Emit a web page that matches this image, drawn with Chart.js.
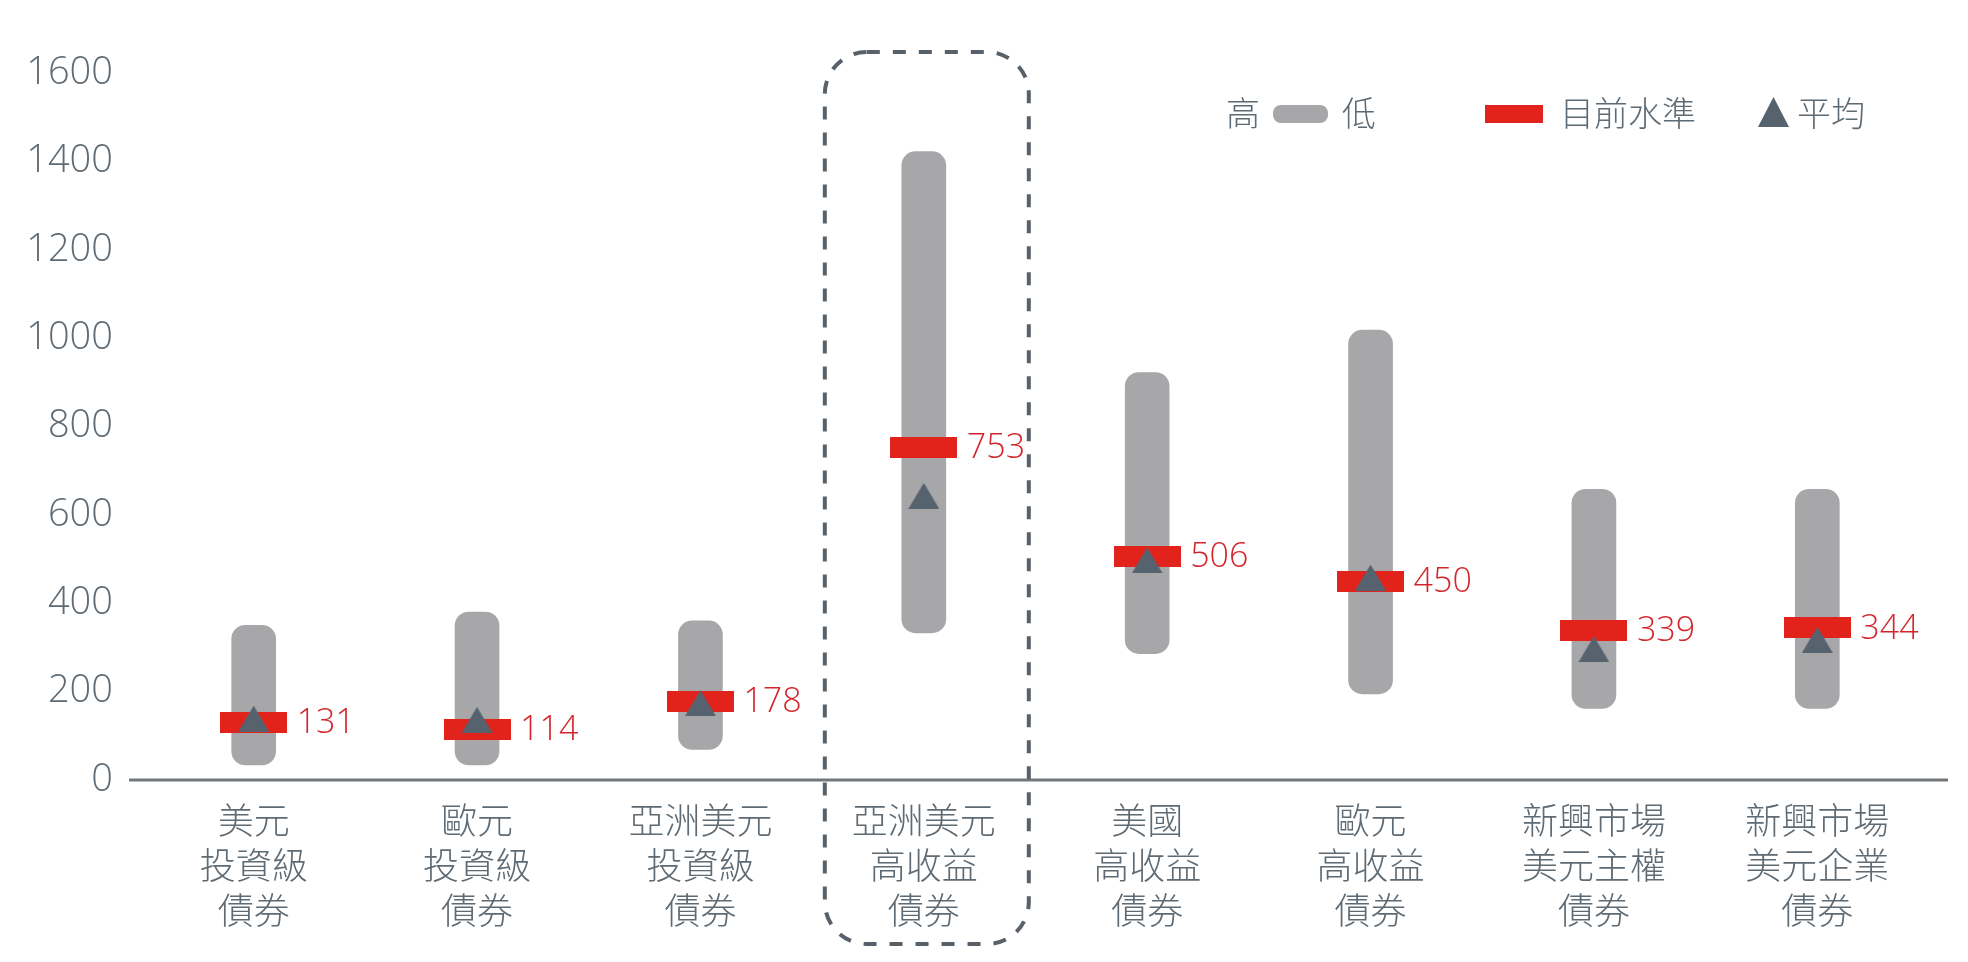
<!DOCTYPE html>
<html><head><meta charset="utf-8">
<script src="https://cdn.jsdelivr.net/npm/chart.js@4.4.0/dist/chart.umd.min.js"></script>
<style>html,body{margin:0;padding:0;background:#fff;overflow:hidden}#wrap{width:1968px;height:962px;position:relative}</style>
</head><body><div id="wrap"><canvas id="c" width="1968" height="962"></canvas></div>
<script>
// ---- data ----
const categories = [
  ['美元','投資級','債券'],
  ['歐元','投資級','債券'],
  ['亞洲美元','投資級','債券'],
  ['亞洲美元','高收益','債券'],
  ['美國','高收益','債券'],
  ['歐元','高收益','債券'],
  ['新興市場','美元主權','債券'],
  ['新興市場','美元企業','債券']
];
const highValues    = [350, 380, 360, 1422, 922, 1018, 658, 658];
const lowValues     = [34, 34, 69, 333, 286, 195, 162, 162];
const currentValues = [131, 114, 178, 753, 506, 450, 339, 344];
const averageValues = [139, 136, 174, 643, 497, 458, 296, 317];
const yTicks = [0, 200, 400, 600, 800, 1000, 1200, 1400, 1600];
const highlightIndex = 3;
const legendLabels = {high: '高', low: '低', current: '目前水準', average: '平均'};

// ---- styles ----
const GRAY = '#a7a7aa', RED = '#e2231b', SLATE = '#56636f', TEXT = '#5f6b74', RED_TEXT = '#d3262c';
const NUM_FONT = '"Open Sans", "Noto Sans", sans-serif';
const CJK_FONT = '"Noto Sans CJK TC", "Noto Sans CJK SC", sans-serif';

function makeRect(w, h, color) {
  const c = document.createElement('canvas'); c.width = w; c.height = h;
  const g = c.getContext('2d'); g.fillStyle = color; g.fillRect(0, 0, w, h); return c;
}
function makeTri(w, h, color) {
  const c = document.createElement('canvas'); c.width = w; c.height = h;
  const g = c.getContext('2d'); g.fillStyle = color;
  g.beginPath(); g.moveTo(0, h); g.lineTo(w / 2, 0); g.lineTo(w, h); g.closePath(); g.fill(); return c;
}
function roundRect(ctx, x, y, w, h, r) {
  ctx.beginPath();
  ctx.moveTo(x + r, y); ctx.lineTo(x + w - r, y); ctx.arcTo(x + w, y, x + w, y + r, r);
  ctx.lineTo(x + w, y + h - r); ctx.arcTo(x + w, y + h, x + w - r, y + h, r);
  ctx.lineTo(x + r, y + h); ctx.arcTo(x, y + h, x, y + h - r, r);
  ctx.lineTo(x, y + r); ctx.arcTo(x, y, x + r, y, r); ctx.closePath();
}

const decor = {
  id: 'decor',
  afterDatasetsDraw(chart) {
    const ctx = chart.ctx;
    const meta = chart.getDatasetMeta(1);
    ctx.save();
    ctx.fillStyle = RED_TEXT;
    ctx.font = '300 34px ' + NUM_FONT;
    ctx.textAlign = 'left'; ctx.textBaseline = 'middle';
    meta.data.forEach((pt, i) => { ctx.fillText(String(currentValues[i]), pt.x + 43, pt.y + 1); });
    ctx.restore();
  },
  afterDraw(chart) {
    const ctx = chart.ctx, xs = chart.scales.x, ys = chart.scales.y;
    ctx.save();
    // baseline
    ctx.strokeStyle = '#72777b'; ctx.lineWidth = 3;
    ctx.beginPath(); ctx.moveTo(129, ys.getPixelForValue(0)); ctx.lineTo(1948, ys.getPixelForValue(0)); ctx.stroke();
    // dashed highlight box
    const cx = xs.getPixelForValue(highlightIndex) + 3;
    ctx.strokeStyle = '#58616a'; ctx.lineWidth = 4; ctx.setLineDash([13, 13]);
    roundRect(ctx, cx - 102, 52, 204, 892, 42); ctx.stroke();
    ctx.setLineDash([]);
    // legend
    ctx.fillStyle = TEXT; ctx.font = '300 34px ' + CJK_FONT;
    ctx.textAlign = 'left'; ctx.textBaseline = 'middle';
    ctx.fillText(legendLabels.high, 1226, 113);
    ctx.fillStyle = GRAY; roundRect(ctx, 1273, 105, 55, 18, 8); ctx.fill();
    ctx.fillStyle = TEXT; ctx.fillText(legendLabels.low, 1342, 113);
    ctx.fillStyle = RED; ctx.fillRect(1485, 105, 58, 18);
    ctx.fillStyle = TEXT; ctx.fillText(legendLabels.current, 1560, 113);
    ctx.fillStyle = SLATE; ctx.beginPath(); ctx.moveTo(1758, 127); ctx.lineTo(1773.5, 97); ctx.lineTo(1789, 127); ctx.closePath(); ctx.fill();
    ctx.fillStyle = TEXT; ctx.fillText(legendLabels.average, 1797, 113);
    ctx.restore();
  }
};

function build() {
  new Chart(document.getElementById('c'), {
    data: {
      labels: categories,
      datasets: [
        { type: 'line', label: legendLabels.average, data: averageValues, showLine: false,
          pointStyle: makeTri(31, 26, SLATE), pointRadius: 16, order: 0 },
        { type: 'line', label: legendLabels.current, data: currentValues, showLine: false,
          pointStyle: makeRect(67, 21, RED), pointRadius: 34, order: 1 },
        { type: 'bar', label: legendLabels.high + legendLabels.low,
          data: lowValues.map((lo, i) => [lo, highValues[i]]),
          backgroundColor: GRAY, barThickness: 44, borderRadius: 14, borderSkipped: false, order: 2 }
      ]
    },
    options: {
      responsive: false, animation: false, devicePixelRatio: 1,
      layout: { padding: { top: 73, right: 39, bottom: 0, left: 0 } },
      plugins: { legend: { display: false }, tooltip: { enabled: false } },
      scales: {
        x: {
          grid: { display: false, drawTicks: false }, border: { display: false },
          afterFit: s => { s.height = 182; },
          ticks: { color: TEXT, padding: 18, maxRotation: 0, autoSkip: false,
            font: { family: CJK_FONT, size: 36, weight: 300, lineHeight: 1.25 } }
        },
        y: {
          min: 0, max: 1600,
          afterFit: s => { s.width = 142; },
          afterBuildTicks: s => { s.ticks = yTicks.map(v => ({ value: v })); },
          grid: { display: false, drawTicks: false }, border: { display: false },
          ticks: { color: TEXT, padding: 29, callback: v => String(v),
            font: { family: NUM_FONT, size: 38, weight: 300 } }
        }
      }
    },
    plugins: [decor]
  });
}
Promise.all([
  document.fonts.load('300 38px "Open Sans"'),
  document.fonts.load('300 36px "Noto Sans CJK TC"', '美元投資級債券')
]).then(build, build);
</script></body></html>
